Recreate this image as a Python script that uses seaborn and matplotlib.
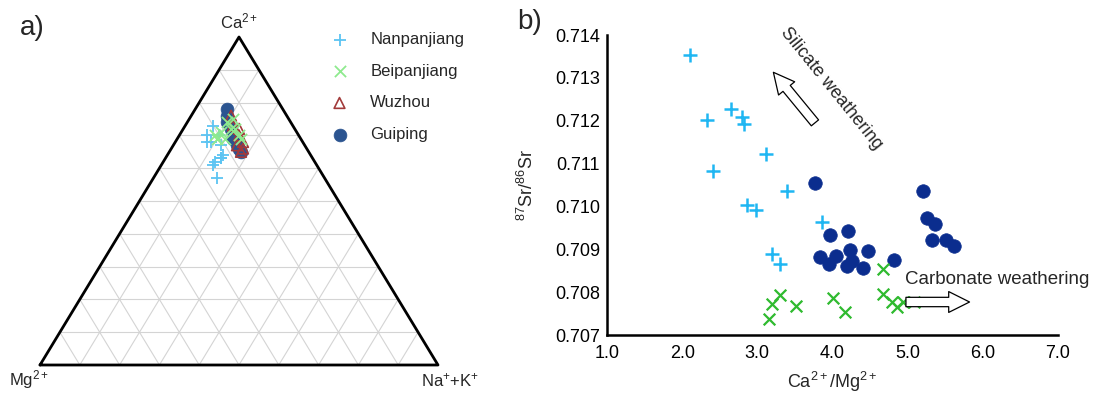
import numpy as np
import pandas as pd
import matplotlib
matplotlib.use("Agg")
import matplotlib.pyplot as plt
from matplotlib.ticker import MultipleLocator, FormatStrFormatter
import seaborn as sns

# ---- panel a: ternary composition (percent) ----
nan_ca = [73, 70, 68, 68, 67, 64, 63, 62, 63, 61, 57, 70]
nan_nak = [7, 7, 8, 9, 12, 14, 14, 13, 14, 13, 16, 10]
nan_mg = [20, 23, 24, 23, 21, 22, 23, 25, 23, 26, 27, 20]

bei_ca = [70, 71, 74, 75, 72, 70, 69, 69, 72, 69]
bei_nak = [9, 10, 10, 11, 13, 15, 16, 12, 12, 10]
bei_mg = [21, 19, 16, 14, 15, 15, 15, 19, 16, 21]

wuz_ca = [76, 73, 72, 70, 68, 66, 65, 67]
wuz_nak = [10, 12, 14, 15, 17, 18, 18, 16]
wuz_mg = [14, 15, 14, 15, 15, 16, 17, 17]

gui_ca = [78, 76, 74, 72, 69, 67, 66, 65]
gui_nak = [8, 9, 10, 12, 14, 16, 17, 18]
gui_mg = [14, 15, 16, 16, 17, 17, 17, 17]

# ---- panel b: Ca/Mg vs 87Sr/86Sr ----
nan_ratio = [2.10, 2.33, 2.65, 2.80, 2.82, 2.41, 3.11, 2.86, 2.98, 3.40, 3.86, 3.20, 3.30]
nan_sr = [0.71354, 0.71201, 0.71227, 0.71209, 0.71192, 0.71083, 0.71122,
          0.71003, 0.70992, 0.71035, 0.70963, 0.70888, 0.70866]

bei_ratio = [4.67, 3.30, 3.19, 3.51, 3.16, 4.00, 4.16, 4.67, 4.79, 4.86, 4.94, 5.08]
bei_sr = [0.70853, 0.70793, 0.70772, 0.70768, 0.70737, 0.70787, 0.70754,
          0.70796, 0.70776, 0.70766, 0.70776, 0.70777]

gui_ratio = [3.77, 5.20, 5.26, 5.36, 5.33, 5.51, 5.62, 3.97, 4.20, 4.23,
             4.47, 4.05, 3.83, 3.96, 4.26, 4.19, 4.40, 4.82]
gui_sr = [0.71054, 0.71037, 0.70974, 0.70958, 0.70921, 0.70921, 0.70908,
          0.70934, 0.70943, 0.70898, 0.70896, 0.70885, 0.70881, 0.70865,
          0.70873, 0.70861, 0.70856, 0.70874]

sns.set_style("white")
plt.rcParams['font.family'] = ['Liberation Sans', 'DejaVu Sans']
plt.rcParams['mathtext.fontset'] = 'custom'
plt.rcParams['mathtext.rm'] = 'Liberation Sans'
plt.rcParams['mathtext.it'] = 'Liberation Sans:italic'
plt.rcParams['mathtext.bf'] = 'Liberation Sans:bold'

fig = plt.figure(figsize=(10.94, 3.99), dpi=100)
W, H = 1094, 399


def tern(ca, nak, mg):
    ca = np.array(ca, float)
    nak = np.array(nak, float)
    tot = ca + nak + np.array(mg, float)
    return pd.DataFrame({'x': nak / tot + ca / tot / 2, 'y': ca / tot})


# ---------- a) ternary ----------
ax1 = fig.add_axes([40 / W, 34 / H, 398 / W, 328 / H])
ax1.set_xlim(0, 1)
ax1.set_ylim(0, 1)
ax1.axis('off')

for i in range(1, 10):
    f = i / 10
    ax1.plot([f / 2, 1 - f / 2], [f, f], color='#d4d4d4', lw=0.8, zorder=1)
    ax1.plot([f, f + (1 - f) / 2], [0, 1 - f], color='#d4d4d4', lw=0.8, zorder=1)
    ax1.plot([1 - f, (1 - f) / 2], [0, 1 - f], color='#d4d4d4', lw=0.8, zorder=1)
ax1.plot([0, 1, 0.5, 0], [0, 0, 1, 0], color='black', lw=2, zorder=2, clip_on=False)

cols_a = {'Nanpanjiang': '#5cc4f2', 'Beipanjiang': '#8eea8e',
          'Wuzhou': '#a23a3a', 'Guiping': '#2b5490'}

sns.scatterplot(data=tern(gui_ca, gui_nak, gui_mg), x='x', y='y', ax=ax1,
                marker='o', s=85, color=cols_a['Guiping'], edgecolor=cols_a['Guiping'],
                linewidth=0.5, label='Guiping', zorder=3, clip_on=False)
sns.scatterplot(data=tern(wuz_ca, wuz_nak, wuz_mg), x='x', y='y', ax=ax1,
                marker='^', s=60, facecolor='none', edgecolor=cols_a['Wuzhou'],
                linewidth=1.2, label='Wuzhou', zorder=4, clip_on=False)
sns.scatterplot(data=tern(nan_ca, nan_nak, nan_mg), x='x', y='y', ax=ax1,
                marker='+', s=75, color=cols_a['Nanpanjiang'], edgecolor=cols_a['Nanpanjiang'],
                linewidth=1.3, label='Nanpanjiang', zorder=5, clip_on=False)
sns.scatterplot(data=tern(bei_ca, bei_nak, bei_mg), x='x', y='y', ax=ax1,
                marker='x', s=65, color=cols_a['Beipanjiang'], edgecolor=cols_a['Beipanjiang'],
                linewidth=1.3, label='Beipanjiang', zorder=6, clip_on=False)

handles, labels = ax1.get_legend_handles_labels()
order = [labels.index(n) for n in ['Nanpanjiang', 'Beipanjiang', 'Wuzhou', 'Guiping']]
ax1.legend([handles[k] for k in order], [labels[k] for k in order],
           loc='upper left', bbox_to_anchor=(327 / W, 1 - 32 / H),
           bbox_transform=fig.transFigure, frameon=False, fontsize=12,
           borderpad=0, borderaxespad=0, handlelength=1.5, handletextpad=1.1,
           labelspacing=1.0)

ax1.set_xlabel('')
ax1.set_ylabel('')
fig.text(239 / W, 1 - 21 / H, r'Ca$^{2+}$', ha='center', va='center', fontsize=12)
fig.text(29 / W, 1 - 380 / H, r'Mg$^{2+}$', ha='center', va='center', fontsize=12)
fig.text(450 / W, 1 - 380 / H, r'Na$^{+}$+K$^{+}$', ha='center', va='center', fontsize=12)
fig.text(32 / W, 1 - 28 / H, 'a)', ha='center', va='center', fontsize=20)

# ---------- b) Sr isotopes ----------
ax2 = fig.add_axes([607 / W, 64 / H, 451 / W, 300 / H])
sns.scatterplot(x=nan_ratio, y=nan_sr, ax=ax2, marker='+', s=100,
                color='#1fb6f2', edgecolor='#1fb6f2', linewidth=1.8, clip_on=False)
sns.scatterplot(x=gui_ratio, y=gui_sr, ax=ax2, marker='o', s=95,
                color='#0b2d8e', edgecolor='#0b2d8e', linewidth=0.5, clip_on=False)
sns.scatterplot(x=bei_ratio, y=bei_sr, ax=ax2, marker='x', s=70,
                color='#2fba2f', edgecolor='#2fba2f', linewidth=1.6, clip_on=False)

ax2.set_xlim(1.0, 7.0)
ax2.set_ylim(0.707, 0.714)
ax2.xaxis.set_major_locator(MultipleLocator(1.0))
ax2.xaxis.set_minor_locator(MultipleLocator(0.5))
ax2.yaxis.set_major_locator(MultipleLocator(0.001))
ax2.xaxis.set_major_formatter(FormatStrFormatter('%.1f'))
ax2.yaxis.set_major_formatter(FormatStrFormatter('%.3f'))
for side in ['top', 'right']:
    ax2.spines[side].set_visible(False)
for side in ['left', 'bottom']:
    ax2.spines[side].set_linewidth(1.8)
    ax2.spines[side].set_color('black')
ax2.tick_params(axis='both', which='major', direction='in', length=5, width=1.3,
                labelsize=13, pad=5, colors='black')
ax2.tick_params(axis='x', which='minor', direction='in', length=4, width=1.3)
ax2.tick_params(axis='x', which='major', pad=7)

ax2.set_xlabel(r'Ca$^{2+}$/Mg$^{2+}$', fontsize=13)
ax2.set_ylabel(r'$^{87}$Sr/$^{86}$Sr', fontsize=13)
ax2.xaxis.set_label_coords(0.5, -0.115)
ax2.yaxis.set_label_coords(-0.155, 0.5)

arrow_kw = dict(arrowstyle='simple,head_length=1.0,head_width=1.0,tail_width=0.45',
                fc='white', ec='black', lw=0.9, mutation_scale=15)
ax2.annotate('', xy=(3.19, 0.71318), xytext=(3.79, 0.71190),
             arrowprops=arrow_kw, annotation_clip=False)
ax2.annotate('', xy=(5.86, 0.70777), xytext=(4.94, 0.70777),
             arrowprops=arrow_kw, annotation_clip=False)
ax2.text(3.99, 0.71276, 'Silicate weathering', rotation=-51, ha='center', va='center',
         fontsize=13, rotation_mode='anchor', clip_on=False)
ax2.text(4.96, 0.70830, 'Carbonate weathering', ha='left', va='center',
         fontsize=13.5, clip_on=False)

fig.text(530 / W, 1 - 22 / H, 'b)', ha='center', va='center', fontsize=20)

fig.savefig('out.png', dpi=100)
